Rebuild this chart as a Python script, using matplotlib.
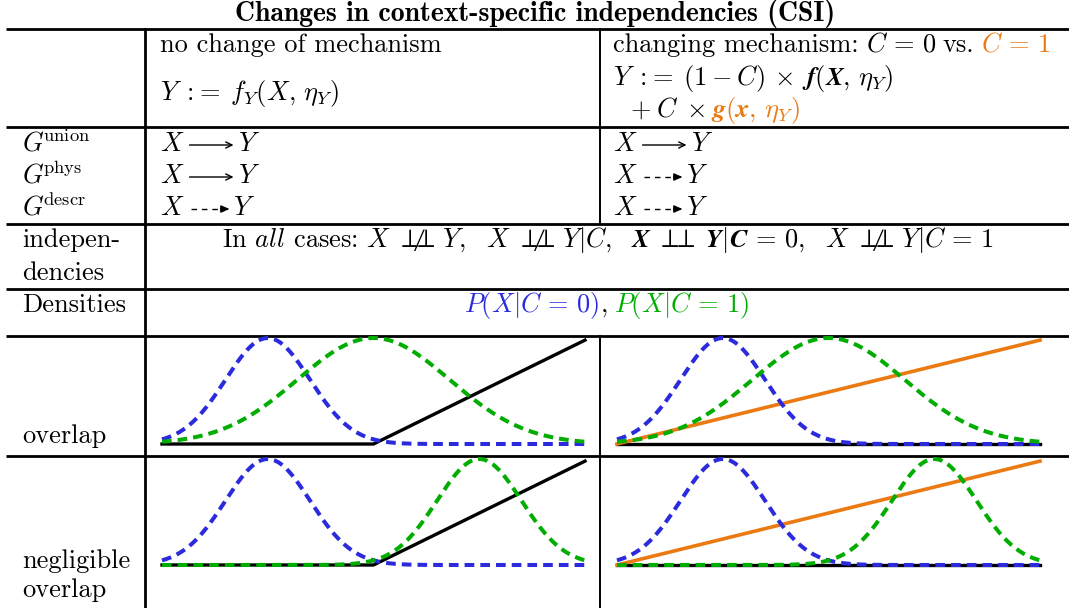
import numpy as np
import matplotlib.pyplot as plt

plt.rcParams['mathtext.fontset'] = 'cm'
plt.rcParams['font.family'] = 'serif'
plt.rcParams['font.serif'] = ['cmr10']
plt.rcParams['axes.formatter.use_mathtext'] = True

BLUE = '#2b2bdd'
GREEN = '#00ad00'
ORANGE = '#eb7a12'
FS = 19

# densities P(X|C=0) (blue) and P(X|C=1) (green), x scaled to [0, 1], peak = 1
blue_mean, blue_sd = 0.25, 0.10
green_mean = {'overlap': 0.50, 'negligible': 0.75}
green_sd = {'overlap': 0.18, 'negligible': 0.10}

# mechanisms (break points)
f_x = [0.0, 0.5, 1.0]          # no change: hinge
f_y = [0.0, 0.0, 0.98]
flat_x = [0.0, 1.0]            # changing: f for C=0 is flat
flat_y = [0.0, 0.0]
g_x = [0.0, 1.0]               # changing: g for C=1 is linear
g_y = [0.0, 0.98]

graph_rows = [('union', 'solid', 'solid'),
              ('phys', 'solid', 'dashed'),
              ('descr', 'dashed', 'dashed')]

fig = plt.figure(figsize=(10.69, 6.08), dpi=100)
bg = fig.add_axes([0, 0, 1, 1])
bg.set_xlim(0, 1069)
bg.set_ylim(608, 0)
bg.axis('off')

# table rules
for y in [29, 127, 224, 289, 336, 456]:
    bg.plot([6, 1069], [y, y], color='k', lw=2.0, solid_capstyle='butt')
bg.plot([145, 145], [29, 608], color='k', lw=2.0)
bg.plot([600, 600], [29, 224], color='k', lw=1.4)
bg.plot([600, 600], [336, 608], color='k', lw=1.4)


def put(parts, x, y, ha='left', size=FS):
    # parts: (text, colour) pieces, or a number = gap in pixels
    r = fig.canvas.get_renderer()
    items = []
    for p in parts:
        if isinstance(p, (int, float)):
            items.append((None, p))
        else:
            t = bg.text(0, y, p[0], color=p[1], fontsize=size, va='baseline')
            items.append((t, t.get_window_extent(r).width))
    if ha == 'center':
        x = x - sum(w for _, w in items) / 2
    for t, w in items:
        if t is not None:
            t.set_x(x)
        x += w
    return x


def arrow(x0, y, style):
    if style == 'solid':
        bg.annotate('', xy=(x0 + 44, y), xytext=(x0, y),
                    arrowprops=dict(arrowstyle='->,head_length=0.45,head_width=0.22',
                                    color='k', lw=1.0, shrinkA=0, shrinkB=0))
        return x0 + 48
    bg.plot([x0 + 1, x0 + 32], [y, y], color='k', lw=1.0, ls=(0, (4, 3.5)))
    bg.annotate('', xy=(x0 + 40, y), xytext=(x0 + 31, y),
                arrowprops=dict(arrowstyle='-|>,head_length=0.5,head_width=0.22',
                                color='k', lw=1.0, shrinkA=0, shrinkB=0))
    return x0 + 43


def edge(x, y, style):
    xe = put([('$X$', 'k')], x, y)
    xe = arrow(xe + 5, y - 6, style)
    put([('$Y$', 'k')], xe, y)


bg.text(535, 21, 'Changes in context-specific independencies (CSI)',
        fontsize=20, family='cmb10', ha='center', va='baseline')

# header
assign = r'\;{:}\!{=}\;'
put([('no change of mechanism', 'k')], 160, 52)
put([(r'$Y%sf_Y(X,\,\eta_Y)$' % assign, 'k')], 160, 100)
put([('changing mechanism:', 'k'), 7, (r'$C\,=\,0$', 'k'), 6, ('vs.', 'k'), 7,
     (r'$C\,=\,1$', ORANGE)], 613, 52)
put([(r'$Y%s(1-C)\,\times\;\boldsymbol{f(X,\,\eta_Y)}$' % assign, 'k')], 613, 85)
put([(r'$+\;C\;\times$', 'k'), 6, (r'$\boldsymbol{g(x,\,\eta_Y)}$', ORANGE)], 630, 117)

# graphs
for i, (name, left, right) in enumerate(graph_rows):
    y = 151 + 32 * i
    put([(r'$G^{\!\mathrm{%s}}$' % name, 'k')], 22, y)
    edge(160, y, left)
    edge(613, y, right)

# independencies
put([('indepen-', 'k')], 22, 247)
put([('dencies', 'k')], 22, 280)
nind = r'\ \perp\!\!\!\perp\!\!\!\!\not\ \ \,'
put([(r'In $\mathit{all}$ cases:', 'k'), 8,
     (r'$X%sY,$' % nind, 'k'), 20,
     (r'$X%sY|C,$' % nind, 'k'), 20,
     (r'$\boldsymbol{X}\;\perp\!\!\!\perp\;\boldsymbol{Y}\mathbf{|}\boldsymbol{C}\,\mathbf{=}\,\mathbf{0},$', 'k'), 20,
     (r'$X%sY|C\,=\,1$' % nind, 'k')], 608, 247, ha='center')

# densities
put([('Densities', 'k')], 22, 312)
put([(r'$P(X|C\,=\,0)$', BLUE), ('$,$', 'k'), 7, (r'$P(X|C\,=\,1)$', GREEN)],
    607, 312, ha='center')

put([('overlap', 'k')], 22, 443)
put([('negligible', 'k')], 22, 568)
put([('overlap', 'k')], 22, 597)

# density panels
xs = np.linspace(0, 1, 300)
panels = [('overlap', 'same', 162, 338, 444),
          ('overlap', 'change', 617, 338, 444),
          ('negligible', 'same', 162, 459, 565),
          ('negligible', 'change', 617, 459, 565)]
for case, mech, left, top, base in panels:
    ax = fig.add_axes([left / 1069, (608 - base) / 608, 423 / 1069, (base - top) / 608])
    ax.set_xlim(0, 1)
    ax.set_ylim(0, 1)
    ax.axis('off')
    if mech == 'same':
        ax.plot(f_x, f_y, color='k', lw=2.4, clip_on=False)
    else:
        ax.plot(flat_x, flat_y, color='k', lw=2.4, clip_on=False)
        ax.plot(g_x, g_y, color=ORANGE, lw=2.6, clip_on=False)
    pb = np.exp(-0.5 * ((xs - blue_mean) / blue_sd) ** 2)
    pg = np.exp(-0.5 * ((xs - green_mean[case]) / green_sd[case]) ** 2)
    ax.plot(xs, pb, color=BLUE, lw=2.9, dashes=(2.4, 1.5), clip_on=False)
    ax.plot(xs, pg, color=GREEN, lw=2.9, dashes=(2.4, 1.5), clip_on=False)

fig.savefig('out.png', dpi=100)
